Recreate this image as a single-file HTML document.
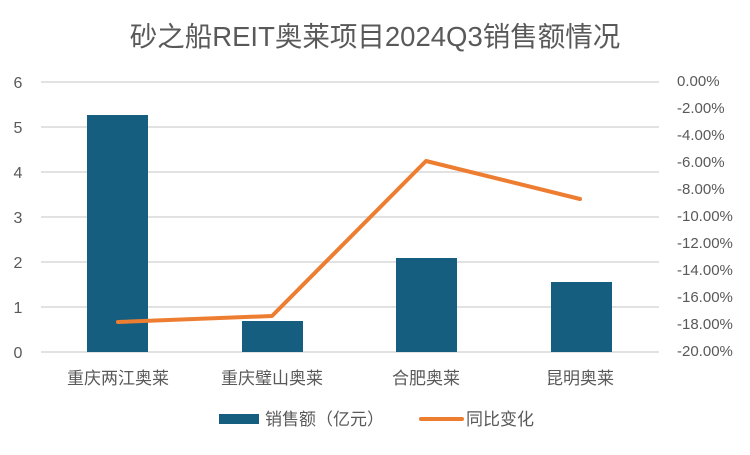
<!DOCTYPE html>
<html><head><meta charset="utf-8"><style>
body{margin:0;background:#fff;}
svg text{font-family:"Liberation Sans","Noto Sans CJK SC",sans-serif;fill:#595959;}
</style></head><body>
<svg width="750" height="450" xmlns="http://www.w3.org/2000/svg">
<rect width="750" height="450" fill="#fff"/>
<text x="375" y="46" font-size="27.5" text-anchor="middle">砂之船REIT奥莱项目2024Q3销售额情况</text>
<g stroke="#d9d9d9" stroke-width="1.5">
<line x1="41" x2="659" y1="82" y2="82"/>
<line x1="41" x2="659" y1="127" y2="127"/>
<line x1="41" x2="659" y1="172" y2="172"/>
<line x1="41" x2="659" y1="217" y2="217"/>
<line x1="41" x2="659" y1="262" y2="262"/>
<line x1="41" x2="659" y1="307" y2="307"/>
<line x1="41" x2="659" y1="352" y2="352"/>
</g>
<g font-size="16" text-anchor="middle">
<text x="18" y="88">6</text><text x="18" y="133">5</text><text x="18" y="178">4</text>
<text x="18" y="223">3</text><text x="18" y="268">2</text><text x="18" y="313">1</text><text x="18" y="358">0</text>
</g>
<g font-size="15">
<text x="677" y="86">0.00%</text><text x="677" y="113">-2.00%</text><text x="677" y="140">-4.00%</text>
<text x="677" y="167">-6.00%</text><text x="677" y="194">-8.00%</text><text x="677" y="221">-10.00%</text>
<text x="677" y="248">-12.00%</text><text x="677" y="275">-14.00%</text><text x="677" y="302">-16.00%</text>
<text x="677" y="329">-18.00%</text><text x="677" y="356">-20.00%</text>
</g>
<g fill="#155e80">
<rect x="87" y="115" width="61" height="237"/>
<rect x="242" y="321" width="61" height="31"/>
<rect x="396" y="258" width="61" height="94"/>
<rect x="551" y="282" width="61" height="70"/>
</g>
<polyline points="118,322 272,316 426,161 580,199" fill="none" stroke="#ed7d31" stroke-width="4" stroke-linejoin="round" stroke-linecap="round"/>
<g font-size="17" text-anchor="middle">
<text x="118" y="384">重庆两江奥莱</text><text x="272" y="384">重庆璧山奥莱</text>
<text x="426" y="384">合肥奥莱</text><text x="580" y="384">昆明奥莱</text>
</g>
<rect x="219" y="414" width="40" height="10" fill="#155e80"/>
<text x="265" y="425" font-size="17">销售额（亿元）</text>
<line x1="421" x2="462" y1="419" y2="419" stroke="#ed7d31" stroke-width="4" stroke-linecap="round"/>
<text x="466" y="425" font-size="17">同比变化</text>
</svg>
</body></html>
